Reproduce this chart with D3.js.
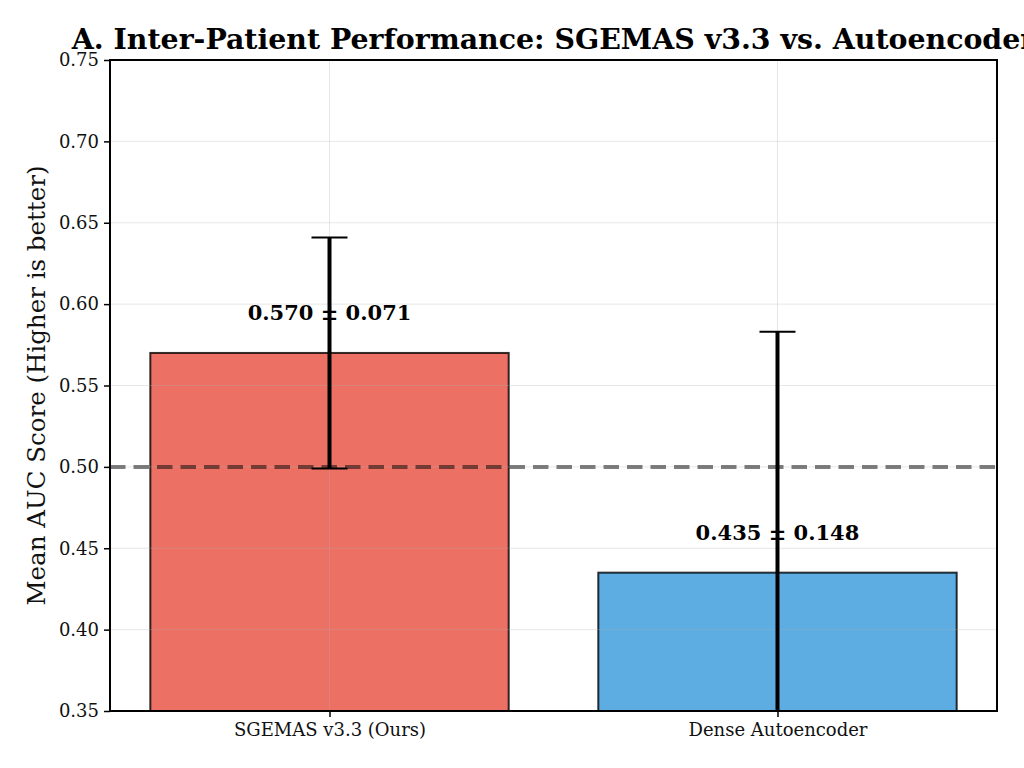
<!DOCTYPE html>
<html>
<head>
<meta charset="utf-8">
<script src="https://cdn.jsdelivr.net/npm/d3@7"></script>
<style>
  body { margin: 0; background: #fff; }
  svg { display: block; font-family: "DejaVu Serif", serif; }
</style>
</head>
<body>
<div id="chart"></div>
<script>
// values
const models = ["SGEMAS v3.3 (Ours)", "Dense Autoencoder"];
const meanAuc = [0.570, 0.435];
const stdAuc = [0.071, 0.148];
const barColors = ["#e74c3c", "#3498db"];
const yTicks = [0.35, 0.40, 0.45, 0.50, 0.55, 0.60, 0.65, 0.70, 0.75];
const chanceLevel = 0.5;

const width = 1024, height = 768;
const margin = {top: 60, right: 27, bottom: 57, left: 110};
const iw = width - margin.left - margin.right;
const ih = height - margin.top - margin.bottom;

const svg = d3.select('#chart').append('svg')
    .attr('width', width)
    .attr('height', height);

const x = d3.scaleLinear().domain([-0.49, 1.49]).range([0, iw]);
const y = d3.scaleLinear().domain([0.35, 0.75]).range([ih, 0]);
const barW = 0.8;

svg.append('defs').append('clipPath').attr('id', 'plot-clip')
    .append('rect').attr('width', iw).attr('height', ih);

const g = svg.append('g').attr('transform', `translate(${margin.left},${margin.top})`);

// bars
g.append('g').selectAll('rect')
    .data(meanAuc)
    .join('rect')
    .attr('x', (d, i) => x(i - barW / 2))
    .attr('width', (d, i) => x(i + barW / 2) - x(i - barW / 2))
    .attr('y', d => y(d))
    .attr('height', d => ih - y(d))
    .attr('fill', (d, i) => barColors[i])
    .attr('fill-opacity', 0.8)
    .attr('stroke', 'rgba(0,0,0,0.8)')
    .attr('stroke-width', 2);

// grid on top of patches
const grid = g.append('g').attr('stroke', '#b0b0b0').attr('stroke-opacity', 0.3).attr('stroke-width', 1);
grid.selectAll('.gy').data(yTicks).join('line')
    .attr('x1', 0).attr('x2', iw)
    .attr('y1', d => y(d)).attr('y2', d => y(d));
grid.selectAll('.gx').data(models).join('line')
    .attr('y1', 0).attr('y2', ih)
    .attr('x1', (d, i) => x(i)).attr('x2', (d, i) => x(i));

// chance line
g.append('line')
    .attr('x1', 0).attr('x2', iw)
    .attr('y1', y(chanceLevel)).attr('y2', y(chanceLevel))
    .attr('stroke', 'black').attr('stroke-opacity', 0.5)
    .attr('stroke-width', 4).attr('stroke-dasharray', '15.5,8');

// error bars
const eb = g.append('g').attr('clip-path', 'url(#plot-clip)');
meanAuc.forEach((m, i) => {
  const lo = m - stdAuc[i], hi = m + stdAuc[i];
  eb.append('line')
      .attr('x1', x(i)).attr('x2', x(i))
      .attr('y1', y(lo)).attr('y2', y(hi))
      .attr('stroke', 'black').attr('stroke-width', 4);
  [lo, hi].forEach(v => {
    eb.append('line')
        .attr('x1', x(i) - 18).attr('x2', x(i) + 18)
        .attr('y1', y(v)).attr('y2', y(v))
        .attr('stroke', 'black').attr('stroke-width', 2);
  });
});

// value labels
g.append('g').selectAll('text')
    .data(meanAuc)
    .join('text')
    .attr('x', (d, i) => x(i))
    .attr('y', d => y(d + 0.02))
    .attr('text-anchor', 'middle')
    .attr('font-weight', 'bold')
    .attr('font-size', 21)
    .text((d, i) => `${d.toFixed(3)} ± ${stdAuc[i].toFixed(3)}`);

// axes
const yAxis = g.append('g')
    .call(d3.axisLeft(y).tickValues(yTicks).tickFormat(d3.format('.2f')).tickSize(6).tickPadding(5));
const xAxis = g.append('g').attr('transform', `translate(0,${ih})`)
    .call(d3.axisBottom(x).tickValues([0, 1]).tickFormat(i => models[i]).tickSize(6).tickPadding(6));
[yAxis, xAxis].forEach(a => {
  a.select('.domain').remove();
  a.selectAll('line').attr('stroke', 'black').attr('stroke-width', 1.5);
  a.selectAll('text').attr('fill', '#111').attr('font-family', '"DejaVu Serif", serif').attr('font-size', 18);
});

// frame
g.append('rect')
    .attr('width', iw).attr('height', ih)
    .attr('fill', 'none').attr('stroke', 'black').attr('stroke-width', 2);

// title + y label
svg.append('text')
    .attr('x', margin.left + iw / 2).attr('y', 49)
    .attr('text-anchor', 'middle')
    .attr('font-weight', 'bold').attr('font-size', 28.4)
    .text('A. Inter-Patient Performance: SGEMAS v3.3 vs. Autoencoder');

svg.append('text')
    .attr('transform', `translate(45,${margin.top + ih / 2}) rotate(-90)`)
    .attr('text-anchor', 'middle')
    .attr('font-size', 24.5)
    .attr('fill', '#111')
    .text('Mean AUC Score (Higher is better)');
</script>
</body>
</html>
